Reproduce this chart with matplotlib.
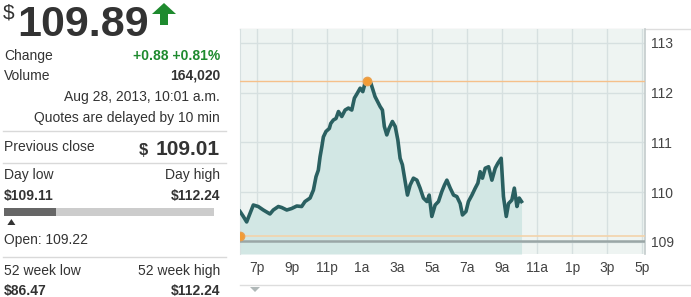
import matplotlib
matplotlib.use('Agg')
import matplotlib.pyplot as plt
from matplotlib.patches import Polygon, Rectangle

plt.rcParams['font.family'] = ['Liberation Sans', 'DejaVu Sans']

# quote panel values
last_price = '109.89'
change_txt = '+0.88 +0.81%'
volume_txt = '164,020'
stamp_txt = 'Aug 28, 2013, 10:01 a.m.'
delay_txt = 'Quotes are delayed by 10 min'
prev_close = 109.01
day_low = 109.11
day_high = 112.24
open_px = 109.22
wk52_low = 86.47
wk52_high = 112.24

# intraday series: hours after midnight of the first day (19 = 7p, 25 = 1a ...)
hours = [18.03, 18.22, 18.41, 18.6, 18.79, 19.07, 19.36, 19.74, 19.93, 20.22,
         20.41, 20.7, 20.98, 21.27, 21.55, 21.74, 22.03, 22.22, 22.37, 22.5,
         22.6, 22.7, 22.79, 22.94, 23.13, 23.21, 23.36, 23.51, 23.65, 23.84,
         24.03, 24.22, 24.41, 24.56, 24.73, 24.89, 25.04, 25.17, 25.3, 25.5,
         25.74, 26.03, 26.16, 26.27, 26.41, 26.54, 26.73, 26.89, 27.04, 27.17,
         27.3, 27.46, 27.59, 27.74, 27.93, 28.13, 28.31, 28.5, 28.7, 28.83,
         28.98, 29.17, 29.36, 29.55, 29.7, 29.84, 30.03, 30.22, 30.41, 30.6,
         30.73, 30.93, 31.07, 31.27, 31.46, 31.61, 31.74, 31.87, 32.03, 32.22,
         32.41, 32.6, 32.75, 32.94, 33.07, 33.23, 33.36, 33.55, 33.69, 33.84,
         33.97, 34.1]
prices = [109.61, 109.51, 109.40, 109.57, 109.74, 109.71, 109.64, 109.56, 109.64, 109.71,
          109.69, 109.64, 109.67, 109.72, 109.71, 109.81, 109.88, 110.04, 110.31, 110.44,
          110.71, 110.91, 111.11, 111.22, 111.28, 111.38, 111.45, 111.48, 111.62, 111.52,
          111.65, 111.69, 111.65, 111.89, 111.99, 112.09, 112.02, 112.19, 112.24, 112.19,
          111.92, 111.72, 111.65, 111.32, 111.15, 111.28, 111.42, 111.32, 111.05, 110.68,
          110.55, 110.21, 109.94, 110.14, 110.28, 110.24, 110.08, 109.88, 109.81, 109.94,
          109.51, 109.74, 109.81, 110.01, 110.14, 110.24, 110.08, 109.94, 109.91, 109.77,
          109.54, 109.61, 109.81, 109.94, 110.08, 110.18, 110.41, 110.28, 110.48, 110.51,
          110.24, 110.48, 110.58, 110.68, 109.91, 109.51, 109.77, 109.84, 110.08, 109.71,
          109.88, 109.81]
high_time = 25.3

xtick_pos = [19, 21, 23, 25, 27, 29, 31, 33, 35, 37, 39, 41]
xtick_lab = ['7p', '9p', '11p', '1a', '3a', '5a', '7a', '9a', '11a', '1p', '3p', '5p']
ytick_pos = [109, 110, 111, 112, 113]

W, H = 691, 297
fig = plt.figure(figsize=(W / 100, H / 100), dpi=100)

# ---- left quote panel, drawn in pixel coords
pan = fig.add_axes([0, 0, 1, 1])
pan.set_xlim(0, W)
pan.set_ylim(H, 0)
pan.axis('off')

txt = '#333333'
pan.text(3, 4, '$', fontsize=15, color=txt, va='top', ha='left')
pan.text(17, 36, last_price, fontsize=31, fontweight='bold', color=txt, va='baseline', ha='left')
green = '#1e8a2e'
pan.add_patch(Polygon([[164, 3], [176, 14], [168, 14], [168, 25], [160, 25], [160, 14], [152, 14]],
                      closed=True, color=green, lw=0))

pan.text(4, 56, 'Change', fontsize=10, color=txt, va='center')
pan.text(220, 56, change_txt, fontsize=10, color=green, fontweight='bold', va='center', ha='right')
pan.text(4, 76, 'Volume', fontsize=10, color=txt, va='center')
pan.text(220, 76, volume_txt, fontsize=10, color=txt, fontweight='bold', va='center', ha='right')
pan.text(220, 97, stamp_txt, fontsize=10, color=txt, va='center', ha='right')
pan.text(220, 118, delay_txt, fontsize=10, color=txt, va='center', ha='right')

sep = '#d9d9d9'
for yy in [131, 163, 257]:
    pan.plot([3, 226], [yy, yy], color=sep, lw=1)

pan.text(4, 147, 'Previous close', fontsize=10, color=txt, va='center')
pan.text(220, 155, '%.2f' % prev_close, fontsize=15, fontweight='bold', color=txt, va='baseline', ha='right')
pan.text(148, 155, '$', fontsize=12, fontweight='bold', color=txt, va='baseline', ha='right')

pan.text(4, 175, 'Day low', fontsize=10, color=txt, va='center')
pan.text(220, 175, 'Day high', fontsize=10, color=txt, va='center', ha='right')
pan.text(4, 196, '$%.2f' % day_low, fontsize=10, fontweight='bold', color=txt, va='center')
pan.text(220, 196, '$%.2f' % day_high, fontsize=10, fontweight='bold', color=txt, va='center', ha='right')

# day range bar: where the last price sits between low and high
bar_l, bar_r = 4, 214
frac = (float(last_price) - day_low) / (day_high - day_low)
pan.add_patch(Rectangle((bar_l, 208), bar_r - bar_l, 8, color='#cccccc', lw=0))
pan.add_patch(Rectangle((bar_l, 208), (bar_r - bar_l) * frac, 8, color='#666666', lw=0))
ox = bar_l + (bar_r - bar_l) * (open_px - day_low) / (day_high - day_low)
pan.add_patch(Polygon([[ox, 219], [ox + 4, 225], [ox - 4, 225]], closed=True, color='#333333', lw=0))
pan.text(4, 240, 'Open: %.2f' % open_px, fontsize=10, color=txt, va='center')

pan.text(4, 271, '52 week low', fontsize=10, color=txt, va='center')
pan.text(220, 271, '52 week high', fontsize=10, color=txt, va='center', ha='right')
pan.text(4, 291, '$%.2f' % wk52_low, fontsize=10, fontweight='bold', color=txt, va='center')
pan.text(220, 291, '$%.2f' % wk52_high, fontsize=10, fontweight='bold', color=txt, va='center', ha='right')

# chart frame lines outside the plot
pan.plot([240, W], [29, 29], color='#dddddd', lw=1)
pan.plot([240, W], [285, 285], color='#dddddd', lw=1)
pan.add_patch(Polygon([[250, 287], [260, 287], [255, 292]], closed=True, color='#b0b8b8', lw=0))

# ---- chart
ax = fig.add_axes([240 / W, 1 - 254 / H, 405 / W, 225 / H])
ax.set_facecolor('#eef4f2')
ax.set_xlim(18.03, 41.15)
ax.set_ylim(108.755, 113.28)
ax.set_xticks(xtick_pos)
ax.set_xticklabels(xtick_lab)
ax.set_yticks(ytick_pos)
ax.yaxis.tick_right()
ax.tick_params(axis='both', length=0, labelsize=10, labelcolor='#444444')
ax.tick_params(axis='x', pad=5)
ax.tick_params(axis='y', pad=4)
ax.grid(True, color='#d6e0e0', lw=1)
ax.set_axisbelow(True)
for s in ['top', 'bottom']:
    ax.spines[s].set_visible(False)
ax.spines['left'].set_color('#d6e0e0')
ax.spines['right'].set_color('#c4cccc')
ax.spines['right'].set_linewidth(1.2)

ax.fill_between(hours, prices, 108.755, color='#d2e7e4', lw=0, zorder=2)
ax.axhline(day_high, color='#f5c08a', lw=1, zorder=3)
ax.axhline(day_low, color='#f3d3aa', lw=1.2, zorder=3)
ax.axhline(prev_close, color='#9aa6a6', lw=1.8, zorder=3)
ax.plot(hours, prices, color='#2a6061', lw=2.6, zorder=4, solid_joinstyle='round')
ax.plot([high_time], [day_high], 'o', color='#f39c34', ms=6, mec='#e8a050', zorder=5)
ax.plot([hours[0]], [day_low], 'o', color='#f39c34', ms=6, mec='#e8a050', zorder=5)

fig.savefig('out.png', dpi=100)
